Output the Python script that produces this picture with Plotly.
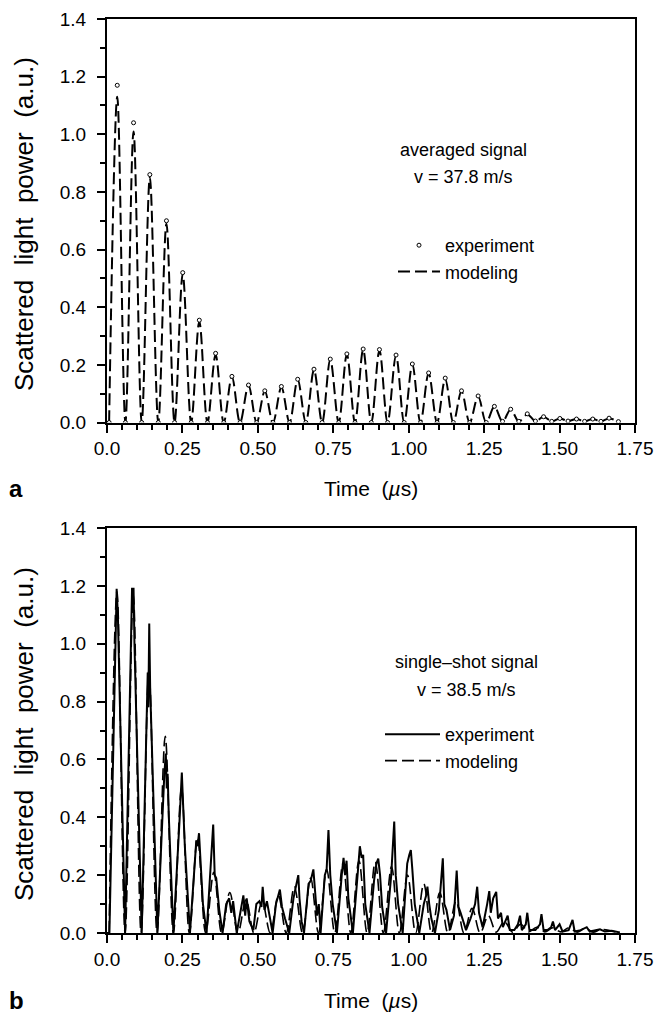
import plotly.graph_objects as go

# ---------------- Panel a (averaged signal) ----------------
a_peak_t = [0.034, 0.088, 0.142, 0.197, 0.251, 0.306, 0.360, 0.414, 0.469, 0.523,
            0.578, 0.632, 0.686, 0.740, 0.795, 0.849, 0.903, 0.958, 1.012, 1.066,
            1.121, 1.175, 1.230, 1.284, 1.338, 1.393, 1.447, 1.501, 1.556, 1.610, 1.664]
a_exp_peak = [1.17, 1.04, 0.86, 0.70, 0.52, 0.355, 0.24, 0.16, 0.13, 0.11,
              0.125, 0.15, 0.185, 0.22, 0.238, 0.255, 0.253, 0.234, 0.203, 0.172,
              0.154, 0.11, 0.092, 0.056, 0.046, 0.03, 0.02, 0.014, 0.012, 0.012, 0.015]
a_model_peak = [1.13, 1.01, 0.85, 0.69, 0.515, 0.35, 0.235, 0.158, 0.128, 0.108,
                0.122, 0.148, 0.182, 0.218, 0.236, 0.252, 0.25, 0.232, 0.2, 0.17,
                0.15, 0.108, 0.09, 0.055, 0.045, 0.028, 0.02, 0.014, 0.012, 0.012, 0.014]
a_trough_t = [0.007, 0.061, 0.115, 0.170, 0.224, 0.279, 0.333, 0.387, 0.441, 0.496,
              0.550, 0.605, 0.659, 0.713, 0.768, 0.822, 0.876, 0.930, 0.985, 1.039,
              1.094, 1.148, 1.202, 1.257, 1.311, 1.365, 1.420, 1.474, 1.528, 1.583,
              1.637, 1.695]
a_trough = [0.0, 0.0, 0.0, 0.0, 0.0, 0.0, 0.0, 0.0, 0.0, 0.0,
            0.0, 0.0, 0.0, 0.0, 0.0, 0.0, 0.0, 0.0, 0.0, 0.0,
            0.0, 0.0, 0.0, 0.0, 0.004, 0.004, 0.005, 0.004, 0.005, 0.004,
            0.004, 0.003]

# ---------------- Panel b (single-shot signal) ----------------
b_exp_t = [0.000, 0.008, 0.032, 0.036, 0.060, 0.083, 0.088, 0.091, 0.115, 0.135,
           0.137, 0.140, 0.143, 0.167, 0.190, 0.195, 0.198, 0.201, 0.205, 0.220,
           0.240, 0.248, 0.252, 0.258, 0.275, 0.296, 0.300, 0.305, 0.310, 0.318,
           0.330, 0.345, 0.352, 0.357, 0.362, 0.372, 0.383, 0.395, 0.405, 0.412,
           0.418, 0.430, 0.445, 0.452, 0.458, 0.463, 0.472, 0.485, 0.495, 0.505,
           0.512, 0.516, 0.522, 0.530, 0.549, 0.560, 0.573, 0.580, 0.590, 0.604,
           0.618, 0.628, 0.634, 0.638, 0.645, 0.653, 0.668, 0.675, 0.684, 0.690,
           0.696, 0.702, 0.708, 0.722, 0.728, 0.734, 0.740, 0.748, 0.762, 0.778,
           0.784, 0.789, 0.794, 0.800, 0.815, 0.832, 0.838, 0.844, 0.849, 0.856,
           0.870, 0.885, 0.893, 0.899, 0.905, 0.912, 0.925, 0.942, 0.952, 0.957,
           0.965, 0.980, 0.995, 1.002, 1.007, 1.012, 1.020, 1.035, 1.050, 1.058,
           1.062, 1.068, 1.075, 1.087, 1.100, 1.113, 1.118, 1.125, 1.137, 1.150,
           1.159, 1.165, 1.172, 1.190, 1.205, 1.220, 1.227, 1.233, 1.245, 1.260,
           1.267, 1.272, 1.280, 1.290, 1.296, 1.306, 1.312, 1.328, 1.335, 1.350,
           1.362, 1.369, 1.375, 1.388, 1.393, 1.400, 1.420, 1.435, 1.440, 1.447,
           1.460, 1.472, 1.478, 1.485, 1.500, 1.510, 1.530, 1.543, 1.550, 1.570,
           1.590, 1.600, 1.620, 1.634, 1.650, 1.673, 1.700]
b_exp = [0.0, 0.0, 1.19, 1.10, 0.0, 1.19, 1.19, 1.00, 0.0, 0.90,
         0.78, 1.07, 0.85, 0.0, 0.55, 0.62, 0.50, 0.55, 0.40, 0.0,
         0.38, 0.555, 0.45, 0.30, 0.0, 0.32, 0.30, 0.345, 0.25, 0.10,
         0.0, 0.25, 0.375, 0.20, 0.19, 0.08, 0.0, 0.10, 0.12, 0.07,
         0.11, 0.0, 0.09, 0.13, 0.06, 0.12, 0.04, 0.01, 0.10, 0.11,
         0.09, 0.16, 0.08, 0.11, 0.0, 0.10, 0.15, 0.09, 0.05, 0.0,
         0.12, 0.17, 0.20, 0.12, 0.04, 0.0, 0.17, 0.18, 0.22, 0.14,
         0.06, 0.10, 0.0, 0.20, 0.22, 0.356, 0.20, 0.10, 0.0, 0.20,
         0.26, 0.20, 0.25, 0.12, 0.0, 0.22, 0.30, 0.26, 0.27, 0.10,
         0.0, 0.18, 0.24, 0.257, 0.20, 0.09, 0.0, 0.20, 0.385, 0.20,
         0.10, 0.0, 0.24, 0.27, 0.287, 0.22, 0.10, 0.0, 0.10, 0.13,
         0.16, 0.10, 0.05, 0.0, 0.08, 0.258, 0.10, 0.08, 0.01, 0.06,
         0.216, 0.09, 0.07, 0.01, 0.05, 0.10, 0.16, 0.07, 0.02, 0.10,
         0.145, 0.07, 0.12, 0.142, 0.05, 0.07, 0.02, 0.06, 0.01, 0.01,
         0.03, 0.06, 0.01, 0.03, 0.07, 0.01, 0.01, 0.03, 0.065, 0.01,
         0.01, 0.02, 0.04, 0.01, 0.03, 0.005, 0.01, 0.045, 0.005, 0.01,
         0.02, 0.005, 0.01, 0.013, 0.005, 0.008, 0.002]

b_model_peak_t = [0.033, 0.087, 0.139, 0.193, 0.247, 0.300, 0.354, 0.407, 0.461, 0.514,
                  0.568, 0.621, 0.675, 0.728, 0.782, 0.835, 0.889, 0.943, 0.996, 1.050,
                  1.103, 1.157, 1.210, 1.264, 1.317, 1.371, 1.424, 1.478, 1.531, 1.585, 1.638]
b_model_peak = [1.18, 1.17, 0.91, 0.68, 0.50, 0.33, 0.21, 0.14, 0.115, 0.11,
                0.13, 0.16, 0.19, 0.22, 0.24, 0.25, 0.245, 0.23, 0.20, 0.17,
                0.14, 0.11, 0.085, 0.06, 0.04, 0.03, 0.02, 0.018, 0.018, 0.016, 0.012]
b_model_trough_t = [0.007, 0.060, 0.113, 0.166, 0.220, 0.273, 0.327, 0.380, 0.434, 0.487,
                    0.541, 0.594, 0.648, 0.701, 0.755, 0.808, 0.862, 0.916, 0.969, 1.023,
                    1.076, 1.130, 1.183, 1.237, 1.290, 1.344, 1.397, 1.451, 1.504, 1.558,
                    1.611, 1.690]
b_model_trough = [0.0, 0.0, 0.0, 0.0, 0.0, 0.0, 0.0, 0.0, 0.0, 0.0,
                  0.0, 0.0, 0.0, 0.0, 0.0, 0.0, 0.0, 0.0, 0.0, 0.0,
                  0.0, 0.0, 0.0, 0.0, 0.003, 0.003, 0.004, 0.004, 0.004, 0.003,
                  0.003, 0.002]

x_ticks = [0.0, 0.25, 0.5, 0.75, 1.0, 1.25, 1.5, 1.75]
x_tick_labels = ["0.0", "0.25", "0.50", "0.75", "1.00", "1.25", "1.50", "1.75"]
y_ticks = [0.0, 0.2, 0.4, 0.6, 0.8, 1.0, 1.2, 1.4]
y_tick_labels = ["0.0", "0.2", "0.4", "0.6", "0.8", "1.0", "1.2", "1.4"]


def interleave(tr_t, tr_v, pk_t, pk_v):
    xs, ys = [], []
    for i in range(len(pk_t)):
        xs += [tr_t[i], pk_t[i]]
        ys += [tr_v[i], pk_v[i]]
    xs.append(tr_t[-1])
    ys.append(tr_v[-1])
    return xs, ys


FONT = "Liberation Sans, Arial, sans-serif"
fig = go.Figure()

ax, ay_model = interleave(a_trough_t, a_trough, a_peak_t, a_model_peak)
_, ay_exp = interleave(a_trough_t, a_trough, a_peak_t, a_exp_peak)

fig.add_trace(go.Scatter(x=ax, y=ay_model, mode="lines", name="modeling",
                         line=dict(color="black", width=2, dash="12px,5px", shape="spline", smoothing=1.0),
                         xaxis="x", yaxis="y", legend="legend", legendrank=2))
fig.add_trace(go.Scatter(x=ax, y=ay_exp, mode="markers", name="experiment",
                         marker=dict(symbol="circle", size=4, color="white",
                                     line=dict(color="black", width=1)),
                         xaxis="x", yaxis="y", legend="legend", legendrank=1))

bx, by_model = interleave(b_model_trough_t, b_model_trough, b_model_peak_t, b_model_peak)
fig.add_trace(go.Scatter(x=bx, y=by_model, mode="lines", name="modeling",
                         line=dict(color="black", width=1.6, dash="12px,5px", shape="spline", smoothing=1.0),
                         xaxis="x2", yaxis="y2", legend="legend2", legendrank=2))
fig.add_trace(go.Scatter(x=b_exp_t, y=b_exp, mode="lines", name="experiment",
                         line=dict(color="black", width=2),
                         xaxis="x2", yaxis="y2", legend="legend2", legendrank=1))

axis_common = dict(showline=True, linewidth=2, linecolor="black", mirror=True,
                   ticks="outside", ticklen=8, tickwidth=1.5, tickcolor="black",
                   showgrid=False, zeroline=False, automargin=False,
                   tickfont=dict(family=FONT, size=19, color="black"))

xcommon = dict(axis_common, range=[0, 1.75], tickvals=x_ticks, ticktext=x_tick_labels,
               minor=dict(dtick=0.05, tick0=0, ticks="outside", ticklen=5, tickwidth=1.5,
                          tickcolor="black", showgrid=False))
ycommon = dict(axis_common, range=[0, 1.4], tickvals=y_ticks, ticktext=y_tick_labels,
               ticklabelstandoff=7,
               minor=dict(dtick=0.1, tick0=0, ticks="outside", ticklen=5, tickwidth=1.5,
                          tickcolor="black", showgrid=False))

H_TOP, H_BOT = 19, 85
PH = 1018 - H_TOP - H_BOT


def py(p):
    return (933 - p) / PH


def px(p):
    return (p - 107) / 528


fig.update_layout(
    width=660, height=1018,
    margin=dict(l=107, r=25, t=H_TOP, b=H_BOT, autoexpand=False),
    paper_bgcolor="white", plot_bgcolor="white",
    showlegend=True,
    xaxis=dict(xcommon, domain=[0, 1], anchor="y"),
    yaxis=dict(ycommon, domain=[py(422.5), 1], anchor="x"),
    xaxis2=dict(xcommon, domain=[0, 1], anchor="y2"),
    yaxis2=dict(ycommon, domain=[0, py(528)], anchor="x2"),
    legend=dict(x=px(393), y=py(227), xanchor="left", yanchor="top",
                bgcolor="rgba(0,0,0,0)", borderwidth=0, itemwidth=42,
                font=dict(family=FONT, size=18, color="black"), tracegroupgap=0),
    legend2=dict(x=px(380), y=py(716), xanchor="left", yanchor="top",
                 bgcolor="rgba(0,0,0,0)", borderwidth=0, itemwidth=55,
                 font=dict(family=FONT, size=18, color="black"), tracegroupgap=0),
    font=dict(family=FONT, color="black"),
)

NB = "\u00a0"
SP = NB * 2
ytitle = f"Scattered{SP}light{SP}power{SP}(a.u.)"
xtitle = f"Time{NB}{NB}(<i>µ</i>s)"


def note(text, x, y, size, angle=0):
    return dict(text=text, x=px(x), y=py(y), xref="paper", yref="paper",
                xanchor="center", yanchor="middle", showarrow=False, textangle=angle,
                font=dict(family=FONT, size=size, color="black"))


ann = []
for yc, xt_y, lab in [(224, 488, "a"), (734, 1000, "b")]:
    ann.append(note(ytitle, 24, yc, 26, -90))
    ann.append(note(xtitle, 371, xt_y, 21))
    ann.append(note(f"<b>{lab}</b>", 16, xt_y, 24))

ann.append(note("averaged signal", 463, 150, 18))
ann.append(note("v = 37.8 m/s", 463, 177, 18))
ann.append(note("single\u2013shot signal", 466, 662, 18))
ann.append(note("v = 38.5 m/s", 466, 690, 18))
fig.update_layout(annotations=ann)

fig.write_html("out.html",
               config={"displayModeBar": False},
               post_script="document.body.style.margin='0';"
                           "document.documentElement.style.overflow='hidden';")
